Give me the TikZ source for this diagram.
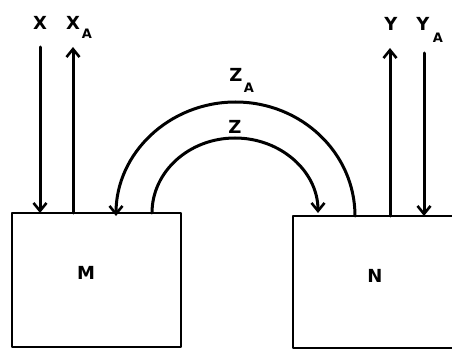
\documentclass[tikz,border=0pt]{standalone}
\usepackage{fontspec}
\setsansfont{DejaVu Sans}
\usetikzlibrary{arrows.meta}
\begin{document}
\begin{tikzpicture}[x=1pt,y=-1pt,
  ln/.style={line width=3pt, line cap=round},
  arr/.style={ln, -{Straight Barb[length=8pt,width=13pt,line width=2.6pt]}},
  boxx/.style={draw, line width=2.8pt, line join=round},
  lbl/.style={font=\sffamily\bfseries\fontsize{18}{18}\selectfont, inner sep=0pt},
  sub/.style={font=\sffamily\bfseries\fontsize{13}{13}\selectfont, inner sep=0pt}]
\useasboundingbox (0,0) rectangle (452,350);
\clip (0,0) rectangle (452,350);
% boxes
\draw[boxx] (12,213) rectangle (181,347);
\draw[boxx] (293,216) rectangle (470,348);
\node[lbl] (M) at (86,273) {M};
\node[lbl] (N) at (375,276) {N};
% coordinates on box tops
\coordinate (xin) at (40,213);
\coordinate (xout) at (73,213);
\coordinate (zaend) at (116,213);
\coordinate (zstart) at (152,213);
\coordinate (zend) at (318,216);
\coordinate (zastart) at (355,216);
\coordinate (yout) at (390,216);
\coordinate (yin) at (424,216);
\coordinate (xtop) at (40,47);
\coordinate (xatop) at (73,47);
\coordinate (ytop) at (390,48);
\coordinate (yatop) at (424,53);
% vertical arrows
\draw[arr] (xtop) -- (xin);
\draw[arr] (xout) -- (xatop);
\draw[arr] (yout) -- (ytop);
\draw[arr] (yatop) -- (yin);
% arcs
\draw[arr] (zastart) arc[start angle=0, end angle=-180, x radius=119.5, y radius=114];
\draw[arr] (zstart) arc[start angle=180, end angle=360, x radius=83, y radius=75];
% labels
\node[lbl] (X) at (40,23) {X};
\node[lbl] (XA) at (73,23) {X};
\node[sub] (XAs) at (87,34) {A};
\node[lbl] (Y) at (391,24) {Y};
\node[lbl] (YA) at (423,24) {Y};
\node[sub] (YAs) at (438,38) {A};
\node[lbl] (ZA) at (236,75) {Z};
\node[sub] (ZAs) at (249,88) {A};
\node[lbl] (Z) at (235,127) {Z};
\end{tikzpicture}
\end{document}
